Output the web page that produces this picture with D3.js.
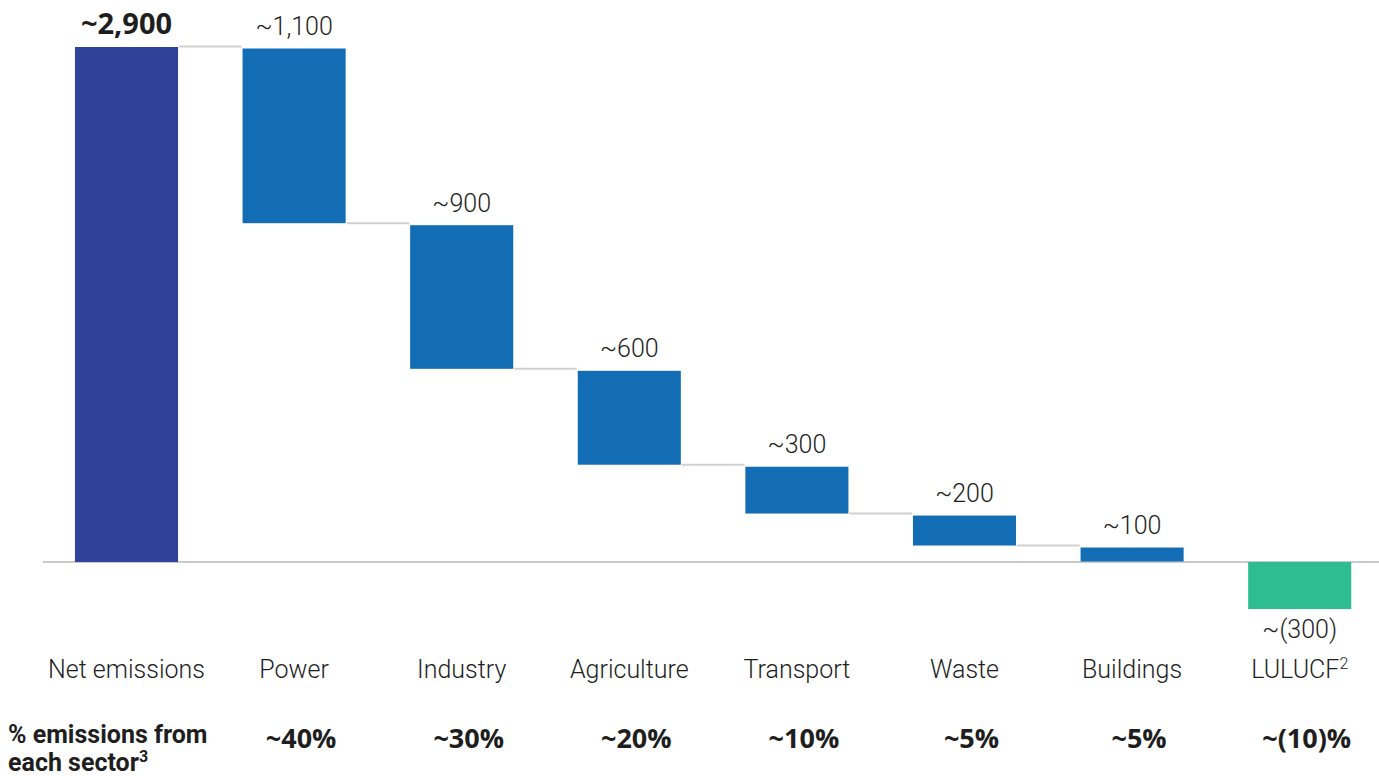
<!DOCTYPE html>
<html>
<head>
<meta charset="utf-8">
<script src="https://cdn.jsdelivr.net/npm/d3@7"></script>
<style>
  body { margin: 0; background: #fff; }
  text { font-family: Roboto, "Open Sans", sans-serif; fill: #1e1e1e; }
</style>
</head>
<body>
<svg id="chart" width="1379" height="776"></svg>
<script>
// data (Mt CO2e, bars drawn from estimated values)
var categories = ["Net emissions", "Power", "Industry", "Agriculture", "Transport", "Waste", "Buildings", "LULUCF"];
var values     = [2900, 995, 820, 540, 275, 180, 90, -265];
var valueLabels = ["~2,900", "~1,100", "~900", "~600", "~300", "~200", "~100", "~(300)"];
var shareLabels = ["", "~40%", "~30%", "~20%", "~10%", "~5%", "~5%", "~(10)%"];
var footnotes   = ["", "", "", "", "", "", "", "2"];

var svg = d3.select("#chart");

var x = d3.scaleBand()
    .domain(categories)
    .range([42.7, 1383.5])
    .paddingInner(0.385)
    .paddingOuter(0.1925);

var y = d3.scaleLinear()
    .domain([0, 2900])
    .range([562, 47]);

// build waterfall steps: total first, then each sector taken off the running level
var steps = [];
var level = values[0];
steps.push({cat: categories[0], y0: 0, y1: values[0], type: "total", i: 0});
for (var i = 1; i < categories.length; i++) {
  var v = values[i];
  if (v >= 0) {
    steps.push({cat: categories[i], y0: level - v, y1: level, type: "pos", i: i});
    level = level - v;
  } else {
    steps.push({cat: categories[i], y0: v, y1: 0, type: "neg", i: i});
  }
}

var colors = {total: "#2e4299", pos: "#136db5", neg: "#2ebd8f"};

// baseline
svg.append("line")
    .attr("x1", 43).attr("x2", 1379)
    .attr("y1", y(0)).attr("y2", y(0))
    .style("stroke", "#b8b8b8")
    .style("stroke-width", 1.5);

// connectors
for (var j = 0; j < steps.length - 2; j++) {
  var a = steps[j], b = steps[j + 1];
  svg.append("line")
      .attr("x1", x(a.cat) + x.bandwidth() + 1)
      .attr("x2", x(b.cat) - 1)
      .attr("y1", y(b.y1) - 0.5).attr("y2", y(b.y1) - 0.5)
      .style("stroke", "#d0d0d0")
      .style("stroke-width", 2);
}

svg.selectAll("rect.bar")
  .data(steps)
  .enter().append("rect")
    .attr("class", "bar")
    .attr("x", function(d) { return x(d.cat); })
    .attr("width", x.bandwidth())
    .attr("y", function(d) { return y(d.y1) + (d.i > 0 && d.type == "pos" ? 1.5 : 0); })
    .attr("height", function(d) { return y(d.y0) - y(d.y1) - (d.i > 0 && d.type == "pos" ? 1.5 : 0) - (d.type == "pos" ? 0.5 : 0); })
    .style("fill", function(d) { return colors[d.type]; });

// value labels
svg.selectAll("text.val")
  .data(steps)
  .enter().append("text")
    .attr("class", "val")
    .attr("x", function(d) { return x(d.cat) + x.bandwidth() / 2; })
    .attr("y", function(d) { return d.type == "neg" ? y(d.y0) + 29 : y(d.y1) - (d.type == "total" ? 13 : 12); })
    .attr("text-anchor", "middle")
    .style("font-size", function(d) { return d.type == "total" ? "29px" : "25px"; })
    .style("font-weight", function(d) { return d.type == "total" ? 700 : 300; })
    .style("font-family", function(d) { return d.type == "total" ? "'Open Sans', sans-serif" : null; })
    .text(function(d) { return valueLabels[d.i]; });

// category labels
var cat = svg.selectAll("text.cat")
  .data(categories)
  .enter().append("text")
    .attr("class", "cat")
    .attr("x", function(d) { return x(d) + x.bandwidth() / 2; })
    .attr("y", 678)
    .attr("text-anchor", "middle")
    .style("font-size", "25px")
    .style("font-weight", 300);
cat.append("tspan").text(function(d) { return d; });
cat.append("tspan")
    .attr("dy", -9)
    .style("font-size", "16px")
    .text(function(d, i) { return footnotes[i]; });

// share row
svg.selectAll("text.share")
  .data(categories)
  .enter().append("text")
    .attr("class", "share")
    .attr("x", function(d) { return x(d) + x.bandwidth() / 2 + 7; })
    .attr("y", 748)
    .attr("text-anchor", "middle")
    .style("font-size", "27px")
    .style("font-weight", 700)
    .style("font-family", "'Open Sans', sans-serif")
    .text(function(d, i) { return shareLabels[i]; });

// row title, two lines
svg.append("text")
    .attr("x", 8).attr("y", 743)
    .style("font-size", "25px")
    .style("font-weight", 700)
    .text("% emissions from");
var line2 = svg.append("text")
    .attr("x", 8).attr("y", 771)
    .style("font-size", "25px")
    .style("font-weight", 700);
line2.append("tspan").text("each sector");
line2.append("tspan").attr("dy", -9).style("font-size", "16px").text("3");
</script>
</body>
</html>
